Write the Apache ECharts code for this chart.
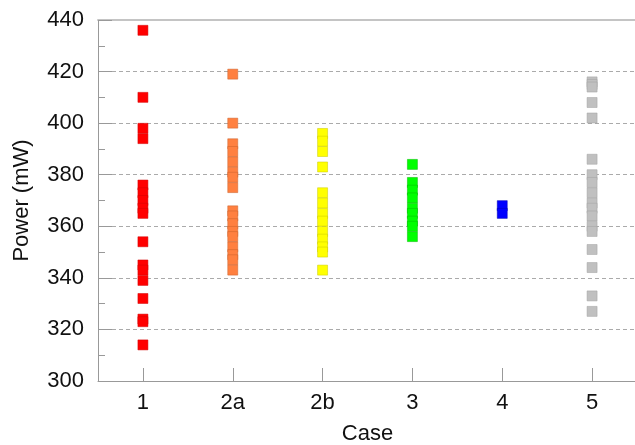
<!DOCTYPE html>
<html>
<head>
<meta charset="utf-8">
<script src="https://cdn.jsdelivr.net/npm/echarts@6/dist/echarts.min.js"></script>
<style>html,body{margin:0;padding:0;background:#fff;}#c{width:635px;height:445px;}</style>
</head>
<body>
<div id="c"></div>
<script>
var categories = ['1', '2a', '2b', '3', '4', '5'];
var case1 = [436, 410, 398, 394, 376, 373, 370, 367, 365, 354, 345, 343, 339, 332, 324, 323, 314];
var case2a = [419, 400, 392, 389, 385, 381, 379, 375, 366, 364, 361, 358, 356, 352, 349, 347, 343];
var case2b = [396, 393, 389, 383, 373, 369, 365, 362, 358, 355, 352, 350, 343];
var case3 = [384, 377, 374, 371, 367, 365, 362, 360, 356];
var case4 = [368, 365];
var case5 = [416, 415, 414, 408, 402, 386, 380, 377, 373, 369, 367, 364, 360, 358, 351, 344, 333, 327];
var yTicks = [300, 320, 340, 360, 380, 400, 420, 440];

var groups = [case1, case2a, case2b, case3, case4, case5];
var colors = ['#ff0000', '#ff8040', '#ffff00', '#00ff00', '#0000ff', '#c0c0c0'];
var borders = ['#d00000', '#c8602c', '#c8c800', '#00b800', '#0000b0', '#a0a0a0'];

var series = groups.map(function (vals, i) {
  return {
    type: 'scatter',
    symbol: 'rect',
    symbolSize: 10,
    itemStyle: { color: colors[i], borderColor: borders[i], borderWidth: 0.5, opacity: 1 },
    data: vals.map(function (v) { return [categories[i], v]; })
  };
});

var font = 'Liberation Sans';
var chart = echarts.init(document.getElementById('c'), null, { renderer: 'canvas' });
chart.setOption({
  animation: false,
  backgroundColor: '#fff',
  grid: { left: 98, top: 20, right: -2, bottom: 64, show: false, containLabel: false, outerBoundsMode: 'none' },
  xAxis: [{
    type: 'category',
    data: categories,
    boundaryGap: true,
    name: 'Case',
    nameLocation: 'middle',
    nameGap: 42,
    nameTextStyle: { fontFamily: font, fontSize: 22, color: '#111' },
    axisLine: { lineStyle: { color: '#999999', width: 1 } },
    axisTick: { show: true, inside: true, alignWithLabel: true, length: 13, lineStyle: { color: '#999999' } },
    axisLabel: { fontFamily: font, fontSize: 22, color: '#111', margin: 11 },
    splitLine: { show: false }
  }, {
    type: 'category',
    data: categories,
    position: 'top',
    axisLine: { show: true, lineStyle: { color: '#c4c4c4', width: 2 } },
    axisTick: { show: false },
    axisLabel: { show: false },
    splitLine: { show: false }
  }],
  yAxis: {
    type: 'value',
    min: yTicks[0],
    max: yTicks[yTicks.length - 1],
    interval: 20,
    name: 'Power (mW)',
    nameLocation: 'middle',
    nameGap: 65,
    nameTextStyle: { fontFamily: font, fontSize: 22, color: '#111' },
    axisLine: { show: true, lineStyle: { color: '#999999', width: 1 } },
    axisTick: { show: true, inside: true, length: 14, lineStyle: { color: '#999999' } },
    minorTick: { show: true, splitNumber: 2, length: 7, lineStyle: { color: '#999999' } },
    axisLabel: { fontFamily: font, fontSize: 22, color: '#111', margin: 14 },
    splitLine: { show: true, lineStyle: { color: '#aaaaaa', type: [4, 3], width: 1 } }
  },
  series: series
});
</script>
</body>
</html>
